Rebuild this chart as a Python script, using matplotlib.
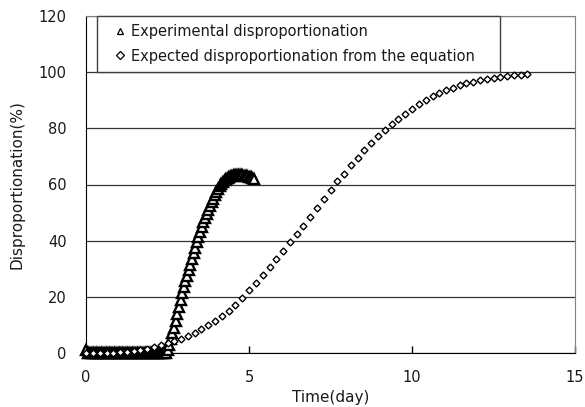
import matplotlib
matplotlib.use("Agg")
import matplotlib.pyplot as plt

plt.rcParams["font.family"] = ["DejaVu Sans"]

# experimental disproportionation (%) vs time (day)
exp_time = [0.00, 0.05, 0.10, 0.15, 0.20, 0.25, 0.30, 0.35, 0.40, 0.45,
            0.50, 0.55, 0.60, 0.65, 0.70, 0.75, 0.80, 0.85, 0.90, 0.95,
            1.00, 1.05, 1.10, 1.15, 1.20, 1.25, 1.30, 1.35, 1.40, 1.45,
            1.50, 1.55, 1.60, 1.65, 1.70, 1.75, 1.80, 1.85, 1.90, 1.95,
            2.00, 2.05, 2.10, 2.15, 2.20, 2.25, 2.30, 2.35, 2.40, 2.45,
            2.50, 2.55, 2.60, 2.65, 2.70, 2.75, 2.80, 2.85, 2.90, 2.95,
            3.00, 3.05, 3.10, 3.15, 3.20, 3.25, 3.30, 3.35, 3.40, 3.45,
            3.50, 3.55, 3.60, 3.65, 3.70, 3.75, 3.80, 3.85, 3.90, 3.95,
            4.00, 4.05, 4.10, 4.15, 4.20, 4.25, 4.30, 4.35, 4.40, 4.45,
            4.50, 4.55, 4.60, 4.65, 4.70, 4.75, 4.80, 4.85, 4.90, 4.95,
            5.00, 5.05, 5.10, 5.15]
exp_value = [1.0, 0, 0, 0, 0, 0, 0, 0, 0, 0,
             0, 0, 0, 0, 0, 0, 0, 0, 0, 0,
             0, 0, 0, 0, 0, 0, 0, 0, 0, 0,
             0, 0, 0, 0, 0, 0, 0, 0, 0, 0,
             0, 0, 0, 0, 0, 0, 0, 0, 0, 0,
             1.0, 3.0, 5.0, 7.0, 9.0, 11.5, 14.0, 16.5, 19.0, 21.3,
             23.5, 25.5, 27.5, 29.5, 31.5, 33.5, 35.5, 37.5, 39.5, 41.3,
             43.0, 44.8, 46.5, 48.0, 49.5, 51.0, 52.5, 53.8, 55.0, 56.3,
             57.5, 58.5, 59.5, 60.3, 61.0, 61.5, 62.0, 62.4, 62.8, 63.0,
             63.2, 63.3, 63.4, 63.4, 63.4, 63.4, 63.3, 63.2, 63.1, 63.0,
             62.8, 62.6, 62.4, 62.0]

# expected disproportionation from the equation
eq_time = [0.00, 0.21, 0.42, 0.63, 0.83, 1.04, 1.25, 1.46, 1.67, 1.88,
           2.08, 2.29, 2.50, 2.71, 2.92, 3.13, 3.33, 3.54, 3.75, 3.96,
           4.17, 4.38, 4.58, 4.79, 5.00, 5.21, 5.42, 5.63, 5.83, 6.04,
           6.25, 6.46, 6.67, 6.88, 7.08, 7.29, 7.50, 7.71, 7.92, 8.13,
           8.33, 8.54, 8.75, 8.96, 9.17, 9.38, 9.58, 9.79, 10.00, 10.21,
           10.42, 10.63, 10.83, 11.04, 11.25, 11.46, 11.67, 11.88, 12.08, 12.29,
           12.50, 12.71, 12.92, 13.13, 13.33, 13.54]
eq_value = [0, 0, 0, 0, 0.1, 0.3, 0.5, 0.8, 1.2, 1.6,
            2.1, 2.7, 3.4, 4.2, 5.1, 6.1, 7.2, 8.5, 9.9, 11.4,
            13.0, 14.8, 17.0, 19.5, 22.3, 25.0, 27.7, 30.6, 33.5, 36.4,
            39.4, 42.4, 45.4, 48.6, 51.7, 54.9, 58.0, 61.3, 63.9, 66.8,
            69.5, 72.2, 74.6, 77.2, 79.4, 81.7, 83.4, 85.2, 86.8, 88.6,
            90.1, 91.4, 92.6, 93.6, 94.5, 95.3, 96.0, 96.6, 97.1, 97.6,
            98.0, 98.4, 98.7, 98.9, 99.1, 99.3]

text_color = "#1a1a1a"

fig = plt.figure(figsize=(5.85, 4.07), dpi=100)
ax = fig.add_axes([86/585, 1-353/407, 489/585, 337/407])

ax.plot(exp_time, exp_value, linestyle="none", marker="^", markersize=6.5,
        markerfacecolor="white", markeredgecolor="black", markeredgewidth=1.7,
        label="Experimental disproportionation", clip_on=False, zorder=3)
ax.plot(eq_time, eq_value, linestyle="none", marker="D", markersize=3.5,
        markerfacecolor="white", markeredgecolor="black", markeredgewidth=1.0,
        label="Expected disproportionation from the equation", clip_on=False, zorder=4)

ax.set_xlim(0, 15)
ax.set_ylim(0, 120)
ax.set_xticks([0, 5, 10, 15])
ax.set_yticks([0, 20, 40, 60, 80, 100, 120])
ax.yaxis.grid(True, color="#333333", linewidth=0.9)
ax.set_axisbelow(True)

ax.tick_params(axis="x", direction="in", length=5, width=1, pad=12,
               labelsize=10.5, labelcolor=text_color)
ax.tick_params(axis="y", direction="in", length=0, pad=14,
               labelsize=10.5, labelcolor=text_color)

ax.spines["left"].set_color("black")
ax.spines["bottom"].set_color("black")
ax.spines["top"].set_color("#808080")
ax.spines["right"].set_color("#808080")

ax.set_xlabel("Time(day)", fontsize=11, labelpad=4, color=text_color)
ax.set_ylabel("Disproportionation(%)", fontsize=11, labelpad=10, color=text_color)

leg = ax.legend(loc="upper left", bbox_to_anchor=(11/489, 1.0, 403/489, 0), mode="expand",
                borderaxespad=0, fontsize=10.5, handlelength=2.0, handletextpad=-0.25,
                borderpad=0.55, labelspacing=0.65, fancybox=False, framealpha=1,
                edgecolor="#404040", labelcolor=text_color)
leg.get_frame().set_linewidth(1.0)
leg.set_zorder(5)
# legend markers are smaller than the plot markers
for h in leg.legend_handles:
    h.set_markersize(4)
    h.set_markeredgewidth(0.9)

plt.savefig("out.png", dpi=100)
